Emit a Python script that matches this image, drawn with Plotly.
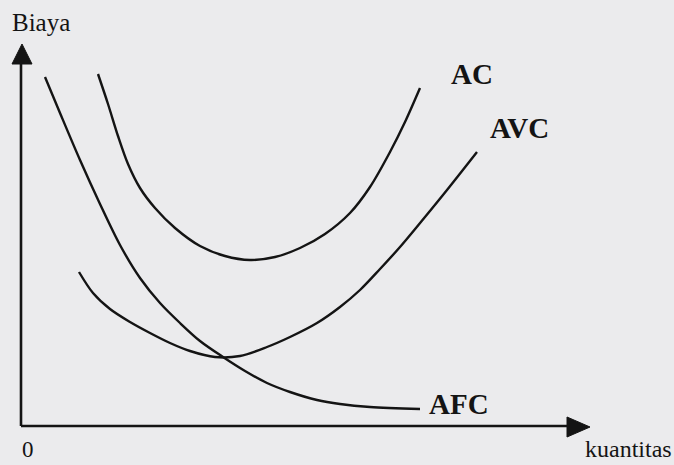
import plotly.graph_objects as go

# Quantity / cost readings (origin at the axes corner)
ac_q = [77, 87, 97, 107, 119, 134, 154, 179, 204, 229, 254, 279, 304, 329, 349, 369, 384, 399]
ac_cost = [352, 322, 290, 262, 238, 218, 198, 180, 170, 166, 169, 178, 192, 213, 239, 274, 304, 338]

avc_q = [58, 72, 89, 109, 129, 149, 169, 194, 219, 246, 269, 296, 319, 339, 359, 379, 404, 426, 456]
avc_cost = [154, 133, 117, 104, 93, 83, 75, 69, 70, 79, 89, 103, 119, 136, 157, 179, 209, 236, 274]

afc_q = [24, 39, 59, 79, 99, 119, 139, 159, 179, 202, 224, 246, 269, 296, 319, 349, 399]
afc_cost = [349, 313, 266, 222, 181, 148, 123, 103, 85, 69, 55, 43, 34, 26, 22, 19, 17]

curve_names = ["AC", "AVC", "AFC"]
ink = "#141414"
bg = "#ebebed"
serif = "Liberation Serif, Times New Roman, serif"

fig = go.Figure()
for q, c, name in [(ac_q, ac_cost, "AC"), (avc_q, avc_cost, "AVC"), (afc_q, afc_cost, "AFC")]:
    fig.add_trace(go.Scatter(x=q, y=c, mode="lines", name=name,
                             line=dict(color=ink, width=2.4, shape="spline", smoothing=0.9),
                             showlegend=False, hoverinfo="skip"))

# Axes lines with arrowheads
fig.add_shape(type="line", x0=0, y0=0, x1=0, y1=364, line=dict(color=ink, width=2.6))
fig.add_shape(type="line", x0=0, y0=0, x1=548, y1=0, line=dict(color=ink, width=2.6))
fig.add_shape(type="path", path="M 1 382 L -9 362 L 11 362 Z", fillcolor=ink, line=dict(color=ink, width=1))
fig.add_shape(type="path", path="M 569 -1 L 546 9 L 546 -11 Z", fillcolor=ink, line=dict(color=ink, width=1))

# Curve labels
label_pos = {"AC": (451, 352), "AVC": (498, 298), "AFC": (438, 22)}
for name in curve_names:
    x, y = label_pos[name]
    fig.add_annotation(x=x, y=y, text="<b>%s</b>" % name, showarrow=False,
                       font=dict(family=serif, size=29, color=ink))

fig.add_annotation(x=20, y=404, text="Biaya", showarrow=False,
                   font=dict(family=serif, size=25, color=ink))
fig.add_annotation(x=7, y=-37, yanchor="bottom", text="0", showarrow=False, borderpad=0,
                   font=dict(family=serif, size=23, color=ink))
fig.add_annotation(x=652, y=-37, xanchor="right", yanchor="bottom", text="kuantitas",
                   showarrow=False, borderpad=0,
                   font=dict(family=serif, size=24, color=ink))

fig.update_layout(
    width=674, height=465,
    margin=dict(l=0, r=0, t=0, b=0),
    paper_bgcolor=bg, plot_bgcolor=bg,
    xaxis=dict(range=[-21, 653], visible=False, fixedrange=True),
    yaxis=dict(range=[-39, 426], visible=False, fixedrange=True),
)

fig.write_html("out.html", config={"displayModeBar": False},
               post_script="document.body.style.margin='0';document.body.style.overflow='hidden';document.body.style.background='%s';" % bg)
